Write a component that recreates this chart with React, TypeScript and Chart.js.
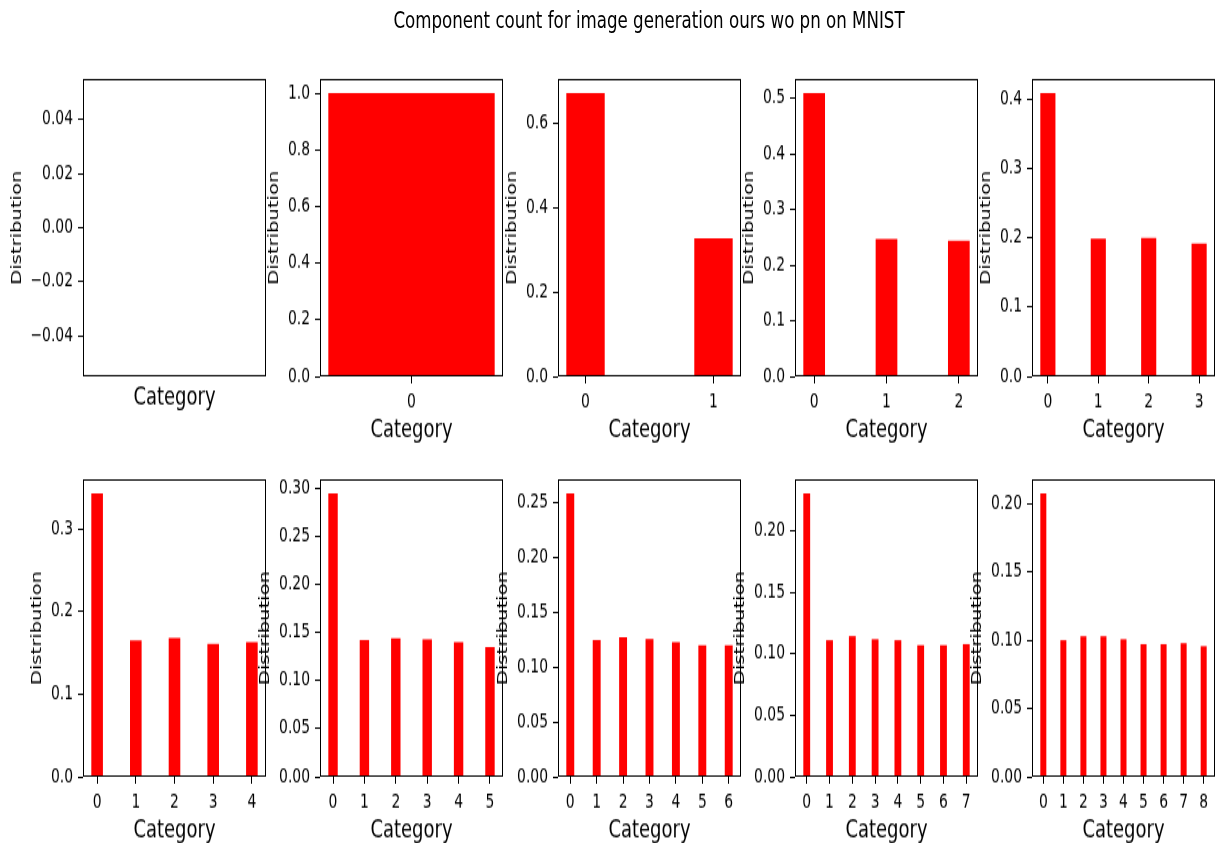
import React, { useEffect, useRef } from "react";
import { Chart, registerables } from "chart.js";

Chart.register(...registerables);

// ---------------- data ----------------
const TITLE = "Component count for image generation ours wo pn on MNIST";
const X_LABEL = "Category";
const Y_LABEL = "Distribution";

const dist0: number[] = [];
const dist1 = [1.0];
const dist2 = [0.672, 0.328];
const dist3 = [0.509, 0.247, 0.244];
const dist4 = [0.409, 0.199, 0.2, 0.192];
const dist5 = [0.343, 0.165, 0.168, 0.161, 0.163];
const dist6 = [0.2945, 0.142, 0.144, 0.143, 0.14, 0.135];
const dist7 = [0.2585, 0.1247, 0.1274, 0.1256, 0.1229, 0.1201, 0.1201];
const dist8 = [0.2302, 0.111, 0.1143, 0.1118, 0.111, 0.1069, 0.1069, 0.1078];
const dist9 = [0.2074, 0.1, 0.1029, 0.1029, 0.1007, 0.0971, 0.0971, 0.0978, 0.0956];

const yTicks0 = [-0.04, -0.02, 0, 0.02, 0.04];
const yTicks1 = [0, 0.2, 0.4, 0.6, 0.8, 1.0];
const yTicks2 = [0, 0.2, 0.4, 0.6];
const yTicks3 = [0, 0.1, 0.2, 0.3, 0.4, 0.5];
const yTicks4 = [0, 0.1, 0.2, 0.3, 0.4];
const yTicks5 = [0, 0.1, 0.2, 0.3];
const yTicks6 = [0, 0.05, 0.1, 0.15, 0.2, 0.25, 0.3];
const yTicks7 = [0, 0.05, 0.1, 0.15, 0.2, 0.25];
const yTicks8 = [0, 0.05, 0.1, 0.15, 0.2];
const yTicks9 = [0, 0.05, 0.1, 0.15, 0.2];

const yDecimals = [2, 1, 1, 1, 1, 1, 2, 2, 2, 2];
const emptyYLimits = [-0.055, 0.055];

const distributions = [dist0, dist1, dist2, dist3, dist4, dist5, dist6, dist7, dist8, dist9];
const yTickSets = [yTicks0, yTicks1, yTicks2, yTicks3, yTicks4, yTicks5, yTicks6, yTicks7, yTicks8, yTicks9];

// ---------------- style / layout ----------------
const FONT = "DejaVu Sans";
const TICK_SIZE = 13.9;
const XLABEL_SIZE = 18;
const YLABEL_SIZE = 13.9;
const TITLE_SIZE = 16.67;
const BAR_COLOR = "#ff0000";
const BAR_WIDTH = 0.3;

const FIG_W = 1218;
const FIG_H = 843;
const BASE_H = 598;
const VSCALE = FIG_H / BASE_H;

const BOX_W = 183;
const BOX_H = 211;
const COL_LEFT0 = 83;
const COL_STEP = 237.25;
const ROW_TOPS = [56, 340];
const YW = 80;
const RP = 14;
const TP = 16;
const XH = 60;

const fmt = (v: number, d: number) => {
  const x = Math.abs(v) < 1e-12 ? 0 : v;
  return x.toFixed(d).replace("-", "\u2212");
};

const measure = (text: string, font: string) => {
  const c = document.createElement("canvas").getContext("2d")!;
  c.font = font;
  return c.measureText(text).width;
};

const framePlugin = {
  id: "frame",
  afterDraw(chart: any) {
    const { ctx, chartArea: a } = chart;
    const l = Math.round(a.left) + 0.5;
    const t = Math.round(a.top) + 0.5;
    const r = Math.round(a.right) - 0.5;
    const b = Math.round(a.bottom) - 0.5;
    ctx.save();
    ctx.strokeStyle = "#000";
    ctx.lineWidth = 1;
    ctx.strokeRect(l, t, r - l, b - t);
    ctx.restore();
  },
};

function SubChart({ index }: { index: number }) {
  const ref = useRef<HTMLCanvasElement | null>(null);
  const values = distributions[index];
  const yt = yTickSets[index];
  const dec = yDecimals[index];
  const n = values.length;
  const col = index % 5;
  const row = Math.floor(index / 5);
  const boxLeft = Math.round(COL_LEFT0 + col * COL_STEP);
  const boxTop = ROW_TOPS[row];
  const W = YW + BOX_W + RP;
  const H = TP + BOX_H + XH;

  useEffect(() => {
    if (!ref.current) return;
    const cats = values.map((_, i) => i);
    let xMin = 0, xMax = 1;
    if (n > 0) {
      const lo = -BAR_WIDTH / 2;
      const hi = n - 1 + BAR_WIDTH / 2;
      const m = (hi - lo) * 0.05;
      xMin = lo - m;
      xMax = hi + m;
    }
    const yMin = n > 0 ? 0 : emptyYLimits[0];
    const yMax = n > 0 ? Math.max(...values) * 1.05 : emptyYLimits[1];
    const barPct = n === 1 ? BAR_WIDTH / (xMax - xMin) : BAR_WIDTH;

    const tickFont = `${TICK_SIZE}px "${FONT}"`;
    const widest = Math.max(...yt.map((v) => measure(fmt(v, dec), tickFont)));
    const yTitleOffset = 4.9 + 4.9 + widest + 5.56 + 8.1;
    const yTitlePad = Math.max(0, YW - yTitleOffset - (YLABEL_SIZE * 1.2) / 2);
    const xTitleGap = n > 0 ? 38.4 : 15.2;
    const xTitlePad = XH - xTitleGap - (XLABEL_SIZE * 1.2) / 2;

    const gridOpts = {
      display: true,
      offset: false,
      drawOnChartArea: false,
      drawTicks: true,
      tickLength: 5,
      tickWidth: 1,
      tickColor: "#000",
    };

    const chart = new Chart(ref.current, {
      type: "bar",
      data: {
        datasets: [
          {
            data: values.map((v, i) => ({ x: i, y: v })),
            backgroundColor: BAR_COLOR,
            borderWidth: 0,
            barPercentage: barPct,
            categoryPercentage: 1,
          } as any,
        ],
      },
      options: {
        animation: false,
        responsive: false,
        devicePixelRatio: 1,
        layout: { padding: { left: 0, right: RP, top: TP, bottom: 0 } },
        plugins: { legend: { display: false }, tooltip: { enabled: false } },
        scales: {
          x: {
            type: "linear",
            min: xMin,
            max: xMax,
            offset: false,
            grid: { ...gridOpts, display: n > 0 },
            border: { display: false },
            ticks: {
              display: n > 0,
              autoSkip: false,
              maxRotation: 0,
              minRotation: 0,
              padding: 5,
              color: "#000",
              font: { family: FONT, size: TICK_SIZE },
              callback: (v: any) => String(v),
            },
            afterBuildTicks: (axis: any) => {
              axis.ticks = cats.map((c) => ({ value: c }));
            },
            afterFit: (axis: any) => {
              axis.height = XH;
            },
            title: {
              display: true,
              text: X_LABEL,
              color: "#000",
              font: { family: FONT, size: XLABEL_SIZE },
              padding: { top: 0, bottom: xTitlePad },
            },
          } as any,
          y: {
            type: "linear",
            min: yMin,
            max: yMax,
            grid: gridOpts,
            border: { display: false },
            ticks: {
              padding: 5,
              color: "#000",
              font: { family: FONT, size: TICK_SIZE },
              callback: (v: any) => fmt(Number(v), dec),
            },
            afterBuildTicks: (axis: any) => {
              axis.ticks = yt.map((v) => ({ value: v }));
            },
            afterFit: (axis: any) => {
              axis.width = YW;
            },
            title: {
              display: true,
              text: Y_LABEL,
              color: "#000",
              font: { family: FONT, size: YLABEL_SIZE },
              padding: { top: yTitlePad, bottom: 0 },
            },
          } as any,
        },
      },
      plugins: [framePlugin],
    });
    return () => chart.destroy();
  }, []);

  return (
    <canvas
      ref={ref}
      width={W}
      height={H}
      style={{
        position: "absolute",
        left: boxLeft - YW,
        top: boxTop - TP,
        width: W,
        height: H,
      }}
    />
  );
}

export default function App() {
  return (
    <div
      style={{
        position: "fixed",
        left: 0,
        top: 0,
        width: FIG_W,
        height: FIG_H,
        overflow: "hidden",
        background: "#fff",
      }}
    >
      <div
        style={{
          position: "absolute",
          left: 0,
          top: 0,
          width: FIG_W,
          height: BASE_H,
          transform: `scaleY(${VSCALE})`,
          transformOrigin: "0 0",
        }}
      >
        <div
          style={{
            position: "absolute",
            left: 0,
            top: 5,
            width: 1298,
            textAlign: "center",
            fontFamily: `"${FONT}"`,
            fontSize: TITLE_SIZE,
            color: "#000",
            whiteSpace: "nowrap",
          }}
        >
          {TITLE}
        </div>
        {distributions.map((_, i) => (
          <SubChart key={i} index={i} />
        ))}
      </div>
    </div>
  );
}
